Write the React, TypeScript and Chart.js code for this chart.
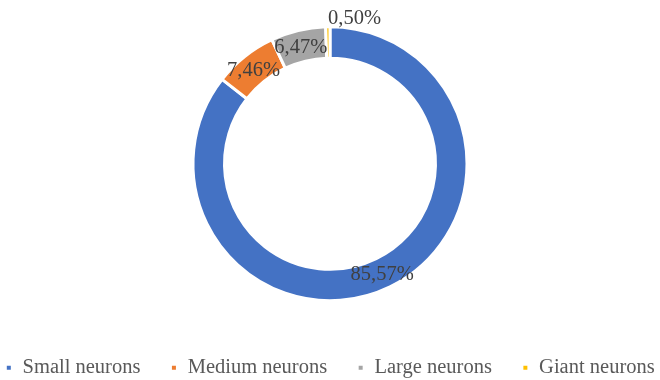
import React, { useEffect, useRef } from "react";
import { Chart, registerables } from "chart.js";

Chart.register(...registerables);

const categories = ["Small neurons", "Medium neurons", "Large neurons", "Giant neurons"];
const shares = [85.57, 7.46, 6.47, 0.5];
const shareLabels = ["85,57%", "7,46%", "6,47%", "0,50%"];
const colors = ["#4472C4", "#ED7D31", "#A5A5A5", "#FFC000"];

const labelPlugin = {
  id: "sliceLabels",
  afterDatasetsDraw(chart: any) {
    const ctx = chart.ctx;
    const meta = chart.getDatasetMeta(0);
    ctx.save();
    ctx.font = "20.5px 'Liberation Serif', serif";
    ctx.fillStyle = "#404040";
    ctx.textBaseline = "middle";
    meta.data.forEach((arc: any, i: number) => {
      const text = shareLabels[i];
      if (shares[i] < 2) {
        ctx.textAlign = "left";
        ctx.fillText(text, arc.x - 2, arc.y - arc.outerRadius - 8);
      } else {
        const p = arc.tooltipPosition();
        ctx.textAlign = "center";
        ctx.fillText(text, p.x - 1, p.y + 2);
      }
    });
    ctx.restore();
  },
};

export default function App() {
  const ref = useRef<HTMLCanvasElement>(null);
  useEffect(() => {
    document.body.style.margin = "0";
    const chart = new Chart(ref.current!, {
      type: "doughnut",
      data: {
        labels: categories,
        datasets: [
          {
            data: shares,
            backgroundColor: colors,
            borderColor: "#ffffff",
            borderWidth: 3,
          },
        ],
      },
      options: {
        responsive: false,
        animation: false,
        radius: 137,
        cutout: "77%",
        layout: { padding: { top: -5, bottom: -8, left: -30, right: -30 } },
        plugins: {
          tooltip: { enabled: false },
          legend: {
            position: "bottom",
            labels: {
              boxWidth: 7,
              boxHeight: 7,
              padding: 30,
              color: "#595959",
              font: { family: "'Liberation Serif', serif", size: 20.5 },
            },
          },
        },
      },
      plugins: [labelPlugin],
    });
    return () => chart.destroy();
  }, []);
  return (
    <div style={{ width: 660, height: 380, background: "#fff" }}>
      <canvas ref={ref} width={660} height={380} />
    </div>
  );
}
